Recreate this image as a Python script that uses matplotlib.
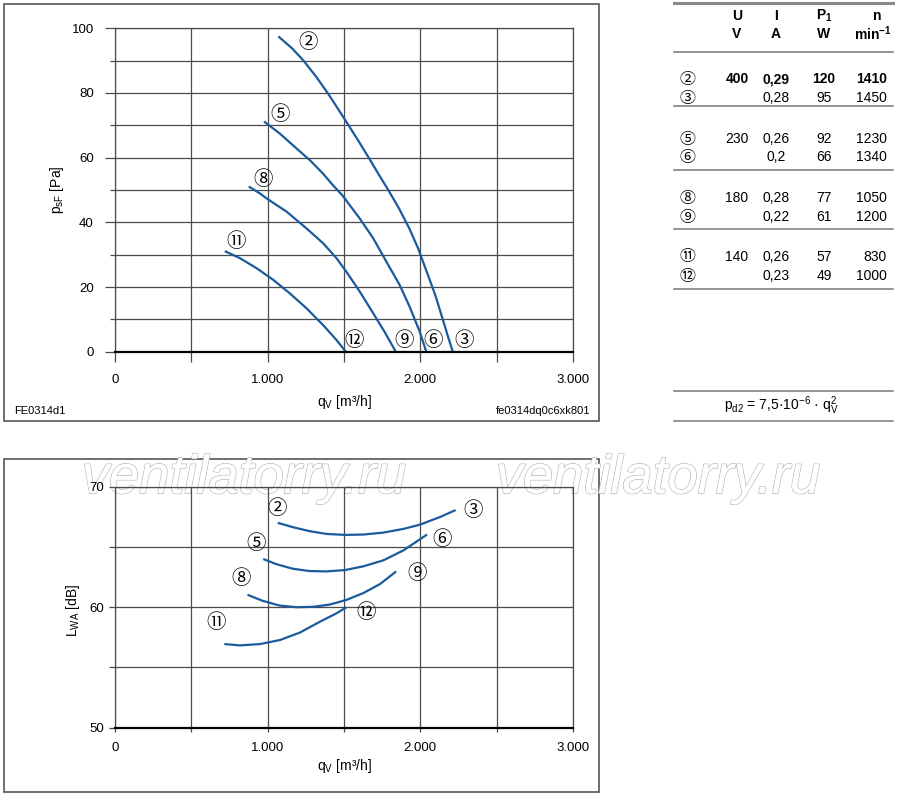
import matplotlib
matplotlib.use('Agg')
import matplotlib.pyplot as plt
import matplotlib.patheffects as pe
from matplotlib.patches import Rectangle
from matplotlib.ticker import FixedLocator, FixedFormatter

plt.rcParams['font.family'] = ['Liberation Sans', 'DejaVu Sans', 'Noto Sans CJK JP']
plt.rcParams['mathtext.fontset'] = 'custom'
plt.rcParams['mathtext.rm'] = 'Liberation Sans'
plt.rcParams['mathtext.it'] = 'Liberation Sans:italic'
plt.rcParams['mathtext.bf'] = 'Liberation Sans:bold'

BLUE = '#1a5b9c'
GRID = '#4a4a4a'
CIRC = ['Noto Sans CJK JP', 'DejaVu Sans']

# pressure curves  (qV [m3/h], psF [Pa])
q_23 = [1070, 1160, 1235, 1318, 1393, 1462, 1530, 1597, 1662, 1725, 1790, 1858, 1928, 1985, 2042,
        2098, 2145, 2185, 2213]
p_23 = [97.5, 93.8, 90, 85, 80, 75, 70, 65, 60, 55, 50, 44.5, 38.1, 32.0, 24.7, 17.5, 10.3, 4.1, 0]
q_56 = [976, 1081, 1190, 1277, 1364, 1429, 1490, 1603, 1691, 1778, 1865, 1930, 1996, 2039]
p_56 = [71.2, 67.4, 62.8, 59.2, 55.0, 51.4, 48.3, 41.2, 35.1, 27.8, 20.6, 13.9, 6.2, 0]
q_89 = [876, 950, 993, 1124, 1255, 1364, 1451, 1516, 1603, 1691, 1765, 1839]
p_89 = [51.1, 48.9, 47.4, 43.3, 38.1, 33.5, 28.9, 24.7, 18.6, 11.9, 6.2, 0]
q_1112 = [719, 819, 928, 1037, 1146, 1255, 1364, 1451, 1512]
p_1112 = [31.1, 28.9, 25.8, 22.2, 18.0, 13.4, 8.2, 3.6, 0]

# sound power curves (qV [m3/h], LWA [dB])
lq_23 = [1066, 1165, 1275, 1385, 1506, 1626, 1758, 1890, 2000, 2132, 2231]
lw_23 = [67.0, 66.64, 66.31, 66.08, 66.0, 66.03, 66.19, 66.5, 66.86, 67.5, 68.06]
lq_56 = [971, 1055, 1165, 1275, 1385, 1506, 1626, 1758, 1890, 1978, 2044]
lw_56 = [64.0, 63.58, 63.19, 63.0, 62.97, 63.08, 63.39, 63.89, 64.72, 65.47, 66.03]
lq_89 = [868, 967, 1077, 1187, 1297, 1407, 1517, 1626, 1736, 1842]
lw_89 = [61.03, 60.53, 60.14, 60.0, 60.03, 60.22, 60.61, 61.17, 61.92, 62.97]
lq_1112 = [716, 819, 950, 1081, 1212, 1343, 1452, 1517]
lw_1112 = [56.94, 56.83, 56.94, 57.28, 57.9, 58.8, 59.5, 60.0]

# curve labels
p_lbl = ['②', '⑤', '⑧', '⑪', '⑫', '⑨', '⑥', '③']
p_lbl_q = [1262, 1081, 967, 793, 1566, 1893, 2085, 2286]
p_lbl_p = [95.5, 73.2, 53.4, 34.0, 3.4, 3.4, 3.4, 3.4]
l_lbl = ['②', '③', '⑤', '⑥', '⑧', '⑨', '⑪', '⑫']
l_lbl_q = [1063, 2347, 924, 2140, 823, 1976, 662, 1644]
l_lbl_w = [68.19, 68.06, 65.28, 65.61, 62.42, 62.83, 58.72, 59.56]

x_ticks = [0, 500, 1000, 1500, 2000, 2500, 3000]
x_tick_labels = ['0', '', '1.000', '', '2.000', '', '3.000']

# table
tbl_head = ['U', 'I', 'P$_{\\mathregular{1}}$', 'n']
tbl_unit = ['V', 'A', 'W', 'min$^{\\mathregular{-1}}$']
tbl_id = ['②', '③', '⑤', '⑥', '⑧', '⑨', '⑪', '⑫']
tbl_U = ['400', '', '230', '', '180', '', '140', '']
tbl_I = ['0,29', '0,28', '0,26', '0,2', '0,28', '0,22', '0,26', '0,23']
tbl_P = ['120', '95', '92', '66', '77', '61', '57', '49']
tbl_n = ['1410', '1450', '1230', '1340', '1050', '1200', '830', '1000']

fig = plt.figure(figsize=(9, 7.97), dpi=100)

# background layer in pixel coordinates: frames, table, watermark
bg = fig.add_axes([0, 0, 1, 1], zorder=0)
bg.set_xlim(0, 900)
bg.set_ylim(797, 0)
bg.axis('off')


def style_axes(ax, ylo, yhi, ymaj, ymin, tlen_y, tlen_ymin, tlen_x, padx, pady):
    ax.set_facecolor('none')
    ax.set_xlim(0, 3000)
    ax.set_ylim(ylo, yhi)
    ax.xaxis.set_major_locator(FixedLocator(x_ticks))
    ax.xaxis.set_major_formatter(FixedFormatter(x_tick_labels))
    ax.yaxis.set_major_locator(FixedLocator(ymaj))
    ax.yaxis.set_minor_locator(FixedLocator(ymin))
    ax.grid(True, which='both', color=GRID, lw=0.9)
    ax.tick_params(axis='x', length=tlen_x, width=0.9, color=GRID, labelsize=9.5, pad=padx)
    ax.tick_params(axis='y', which='major', length=tlen_y, width=0.9, color=GRID, labelsize=9.5, pad=pady)
    ax.tick_params(axis='y', which='minor', length=tlen_ymin, width=0.9, color=GRID)
    for s in ax.spines.values():
        s.set_color(GRID)
        s.set_linewidth(0.9)
    ax.spines['bottom'].set_color('black')
    ax.spines['bottom'].set_linewidth(1.6)
    ax.set_axisbelow(True)


# --- top chart: pressure
ax1 = fig.add_axes([115 / 900, 1 - 351.7 / 797, 458 / 900, 323.4 / 797], zorder=1)
style_axes(ax1, 0, 100, [0, 20, 40, 60, 80, 100], [10, 30, 50, 70, 90], 7.2, 3.6, 7.2, 9, 8)
for q, p in [(q_23, p_23), (q_56, p_56), (q_89, p_89), (q_1112, p_1112)]:
    ax1.plot(q, p, color=BLUE, lw=1.6, solid_capstyle='butt', solid_joinstyle='round')
for t, q, p in zip(p_lbl, p_lbl_q, p_lbl_p):
    ax1.text(q, p, t, family=CIRC, fontsize=14, ha='center', va='center')
ax1.text(0.5, -0.155, 'q$_{\\mathregular{V}}$ [m³/h]', transform=ax1.transAxes,
         ha='center', va='center', fontsize=10)
ax1.text(-0.1275, 0.5, 'p$_{\\mathregular{sF}}$ [Pa]', transform=ax1.transAxes,
         ha='center', va='center', rotation=90, fontsize=10)

# --- bottom chart: sound power
ax2 = fig.add_axes([115 / 900, 1 - 727.7 / 797, 458 / 900, 241 / 797], zorder=1)
style_axes(ax2, 50, 70, [50, 60, 70], [55, 65], 4, 4, 3, 7, 4)
for q, w in [(lq_23, lw_23), (lq_56, lw_56), (lq_89, lw_89), (lq_1112, lw_1112)]:
    ax2.plot(q, w, color=BLUE, lw=1.6, solid_capstyle='butt', solid_joinstyle='round')
for t, q, w in zip(l_lbl, l_lbl_q, l_lbl_w):
    ax2.text(q, w, t, family=CIRC, fontsize=14, ha='center', va='center')
ax2.text(0.5, -0.16, 'q$_{\\mathregular{V}}$ [m³/h]', transform=ax2.transAxes,
         ha='center', va='center', fontsize=10)
ax2.text(-0.0924, 0.488, 'L$_{\\mathregular{WA}}$ [dB]', transform=ax2.transAxes,
         ha='center', va='center', rotation=90, fontsize=10)

# frames
bg.add_patch(Rectangle((4, 3.5), 595, 417, fill=False, ec='#555555', lw=1.2))
bg.add_patch(Rectangle((4, 459), 595, 333, fill=False, ec='#555555', lw=1.2))
bg.text(14, 411, 'FE0314d1', fontsize=8, ha='left', va='center')
bg.text(590, 411, 'fe0314dq0c6xk801', fontsize=8, ha='right', va='center')

# table lines
bg.plot([674, 893], [3, 3], color='#888888', lw=2.2)
for yl in [52, 106, 170, 229, 289, 390.5, 420.5]:
    bg.plot([674, 893], [yl, yl], color='#777777', lw=1.1)

col_x = [737, 776, 824, 877]
for x, h, u in zip(col_x, tbl_head, tbl_unit):
    bg.text(x, 16, h, fontsize=10, fontweight='bold', ha='center', va='center')
    if u.startswith('min'):
        bg.text(892, 34, u, fontsize=10, fontweight='bold', ha='right', va='center')
    else:
        bg.text(x, 34, u, fontsize=10, fontweight='bold', ha='center', va='center')

row_y = [79, 98, 139, 157, 198, 217, 257, 276]
for i, y in enumerate(row_y):
    wt = 'bold' if i == 0 else 'normal'
    bg.text(688, y, tbl_id[i], family=CIRC, fontsize=11.5, ha='center', va='center')
    bg.text(737, y, tbl_U[i], fontsize=10, fontweight=wt, ha='center', va='center')
    bg.text(776, y, tbl_I[i], fontsize=10, fontweight=wt, ha='center', va='center')
    bg.text(824, y, tbl_P[i], fontsize=10, fontweight=wt, ha='center', va='center')
    bg.text(887, y, tbl_n[i], fontsize=10, fontweight=wt, ha='right', va='center')

bg.text(781, 406, 'p$_{\\mathregular{d2}}$ = 7,5·10$^{\\mathregular{-6}}$ · q$_{\\mathregular{V}}^{\\mathregular{2}}$',
        fontsize=10, ha='center', va='center')

# watermark (under the chart grid)
for wx in [82, 496]:
    bg.text(wx, 493, 'ventilatorry.ru', fontsize=39, style='italic', color='white',
            ha='left', va='baseline', family='Liberation Sans',
            path_effects=[pe.withStroke(linewidth=1.2, foreground='#bdbdbd'), pe.Normal()])

fig.savefig('out.png', dpi=100)
